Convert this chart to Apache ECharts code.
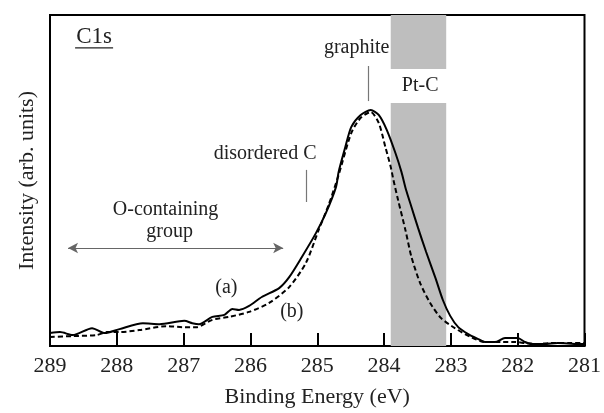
<!DOCTYPE html>
<html>
<head>
<meta charset="utf-8">
<script src="https://cdn.jsdelivr.net/npm/echarts@6/dist/echarts.min.js"></script>
<style>
  html, body { margin: 0; padding: 0; background: #fff; }
  #chart { width: 604px; height: 413px; }
</style>
</head>
<body>
<div id="chart"></div>
<script>
// binding energy (eV) and intensity (arb., 0-100)
var energyA = [289.00, 288.85, 288.66, 288.37, 288.18, 287.96, 287.61, 287.36, 286.99, 286.87, 286.77, 286.57, 286.39, 286.27, 286.17, 286.02, 285.83, 285.57, 285.42, 285.23, 285.02, 284.87, 284.72, 284.68, 284.58, 284.49, 284.35, 284.20, 284.08, 283.96, 283.83, 283.74, 283.67, 283.59, 283.49, 283.37, 283.23, 283.12, 283.01, 282.89, 282.74, 282.59, 282.49, 282.34, 282.19, 282.00, 281.89, 281.80, 281.60, 281.40, 281.10, 281.00];
var intensA = [3.9, 4.2, 3.3, 5.4, 3.9, 5.1, 6.9, 6.6, 7.6, 6.9, 6.6, 8.8, 9.4, 11.2, 10.9, 12.1, 14.8, 17.5, 20.8, 26.9, 34.1, 40.2, 48.0, 52.6, 60.1, 66.2, 69.8, 71.3, 69.8, 65.3, 58.3, 52.6, 47.1, 42.0, 35.6, 28.4, 20.5, 13.9, 9.1, 5.7, 3.6, 2.1, 1.2, 1.2, 2.4, 2.4, 1.2, 0.6, 0.6, 0.9, 0.6, 0.6];

var energyB = [289.00, 288.66, 288.30, 288.15, 287.96, 287.66, 287.26, 287.02, 286.81, 286.57, 286.32, 286.02, 285.72, 285.42, 285.17, 284.98, 284.83, 284.68, 284.49, 284.35, 284.20, 284.08, 283.98, 283.90, 283.86, 283.79, 283.68, 283.59, 283.46, 283.31, 283.15, 282.94, 282.70, 282.49, 282.25, 282.04, 281.89, 281.70, 281.51, 281.25, 281.00];
var intensB = [2.7, 3.0, 3.3, 4.2, 4.2, 4.8, 6.0, 5.7, 5.7, 7.9, 8.8, 10.3, 13.0, 17.8, 25.1, 35.0, 42.6, 51.7, 64.4, 68.9, 70.7, 67.4, 60.1, 54.1, 50.2, 44.1, 35.0, 26.9, 19.0, 13.0, 8.5, 5.4, 2.7, 1.2, 1.2, 1.2, 0.9, 0.6, 0.9, 0.9, 0.9];

var xTicks = [281, 282, 283, 284, 285, 286, 287, 288, 289];
var ptcBand = [283.9, 283.07];

function pairs(xs, ys) {
  var out = [];
  for (var i = 0; i < xs.length; i++) out.push([xs[i], ys[i]]);
  return out;
}

var serif = 'Liberation Serif';
var chart = echarts.init(document.getElementById('chart'));

chart.setOption({
  animation: false,
  grid: { left: 50, right: 17, top: 15, bottom: 67, show: true, borderColor: '#000', borderWidth: 2 },
  xAxis: {
    type: 'value', inverse: true, min: xTicks[0], max: xTicks[xTicks.length - 1], interval: 1,
    axisLine: { lineStyle: { color: '#000', width: 2 } },
    axisTick: { inside: true, length: 13, lineStyle: { color: '#000', width: 2 } },
    axisLabel: { color: '#222', fontFamily: serif, fontSize: 22, margin: 9 },
    splitLine: { show: false },
    name: 'Binding Energy (eV)', nameLocation: 'middle', nameGap: 40,
    nameTextStyle: { color: '#222', fontFamily: serif, fontSize: 22 }
  },
  yAxis: {
    type: 'value', min: 0, max: 100,
    axisLine: { show: false }, axisTick: { show: false }, axisLabel: { show: false },
    splitLine: { show: false },
    name: 'Intensity (arb. units)', nameLocation: 'middle', nameGap: 12,
    nameTextStyle: { color: '#222', fontFamily: serif, fontSize: 22 }
  },
  series: [
    {
      type: 'line', data: pairs(energyA, intensA), symbol: 'none', smooth: 0.25,
      lineStyle: { color: '#000', width: 2 }, z: 3,
      markArea: {
        silent: true,
        itemStyle: { color: '#bebebe' },
        data: [
          [{ xAxis: ptcBand[0], yAxis: 83.7 }, { xAxis: ptcBand[1], yAxis: 100 }],
          [{ xAxis: ptcBand[0], yAxis: 0 }, { xAxis: ptcBand[1], yAxis: 73.4 }]
        ]
      },
      markLine: {
        silent: true, symbol: 'none', label: { show: false },
        lineStyle: { color: '#777', width: 1.2, type: 'solid' },
        data: [
          [{ coord: [284.23, 84.6] }, { coord: [284.23, 74.0] }],
          [{ coord: [285.16, 53.2] }, { coord: [285.16, 43.5] }]
        ]
      }
    },
    {
      type: 'line', data: pairs(energyB, intensB), symbol: 'none', smooth: 0.25,
      lineStyle: { color: '#000', width: 2, type: [5, 3] }, z: 3,
      markLine: {
        silent: true, symbol: ['arrow', 'arrow'], symbolSize: [8, 10], label: { show: false },
        lineStyle: { color: '#666', width: 1.2, type: 'solid' },
        data: [[{ coord: [288.73, 29.6] }, { coord: [285.51, 29.6] }]]
      }
    }
  ]
});

// text annotations placed in data coordinates
var notes = [
  { t: 'graphite', e: 284.41, i: 90.0, s: 20 },
  { t: 'Pt-C', e: 283.46, i: 78.5, s: 20 },
  { t: 'disordered C', e: 285.78, i: 58.0, s: 20 },
  { t: 'O-containing', e: 287.27, i: 41.1, s: 20 },
  { t: 'group', e: 287.21, i: 34.4, s: 20 },
  { t: '(a)', e: 286.36, i: 17.5, s: 20 },
  { t: '(b)', e: 285.38, i: 10.3, s: 20 },
  { t: 'C1s', e: 288.34, i: 93.4, s: 23 }
];
var gfx = notes.map(function (n) {
  var p = chart.convertToPixel({ gridIndex: 0 }, [n.e, n.i]);
  return {
    type: 'text', x: p[0], y: p[1], z: 10,
    style: { text: n.t, fill: '#222', font: n.s + 'px "Liberation Serif"', align: 'center', verticalAlign: 'middle' }
  };
});
var c1 = chart.convertToPixel({ gridIndex: 0 }, [288.34, 93.4]);
gfx.push({ type: 'line', z: 10, shape: { x1: c1[0] - 19, y1: c1[1] + 11, x2: c1[0] + 19, y2: c1[1] + 11 }, style: { stroke: '#222', lineWidth: 1.4 } });
chart.setOption({ graphic: gfx });
</script>
</body>
</html>
